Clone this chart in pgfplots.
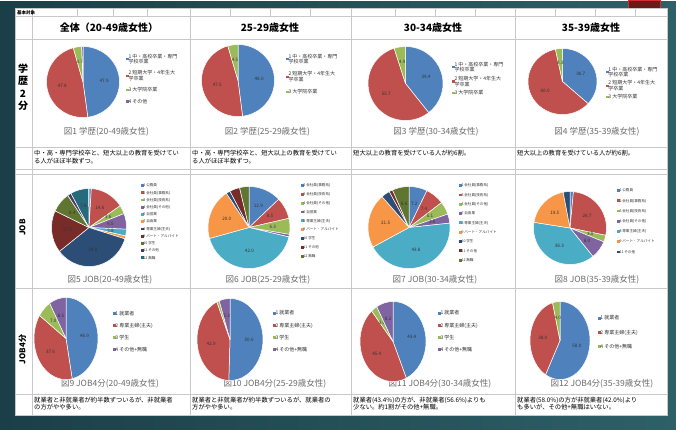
\documentclass[border=0pt]{standalone}
\usepackage{pgfplots}
\usepackage{pgfplotstable}
\pgfplotsset{compat=1.18}
\usepackage{fontspec}
\setmainfont{Noto Sans CJK JP}
\definecolor{xblue}{HTML}{4F81BD}
\definecolor{xred}{HTML}{C0504D}
\definecolor{xgreen}{HTML}{9BBB59}
\definecolor{xpurple}{HTML}{8064A2}
\definecolor{xaqua}{HTML}{4BACC6}
\definecolor{xorange}{HTML}{F79646}
\definecolor{xdblue}{HTML}{2C4D75}
\definecolor{xdred}{HTML}{772C2A}
\definecolor{xdgreen}{HTML}{5F7530}
\definecolor{xdpurple}{HTML}{4D3B62}
\definecolor{xdaqua}{HTML}{276A7C}
\definecolor{bgA}{HTML}{1B3F48}
\definecolor{bgB}{HTML}{2E6067}
\definecolor{gridc}{HTML}{C8C8C8}
\definecolor{capc}{HTML}{6B6B6B}
\definecolor{redfill}{HTML}{6E1919}
\definecolor{redline}{HTML}{D72D2D}

\newcommand\legA{\fontsize{5}{5.6}\selectfont\color{black!80}}
\newcommand\legB{\fontsize{3.6}{4.2}\selectfont\color{black!80}}
\newcommand\labfont{\fontsize{4.6}{5}\selectfont\color{black!80}}

% ---- data ----
\pgfplotstableread{
v c l
47.9 xblue 1
47.8 xred 1
3.7 xgreen 1
0.6 xpurple 0
}\tA
\pgfplotstableread{
v c l
48.0 xblue 1
47.5 xred 1
4.5 xgreen 1
}\tB
\pgfplotstableread{
v c l
39.4 xblue 1
55.7 xred 1
4.9 xgreen 1
}\tC
\pgfplotstableread{
v c l
36.7 xblue 1
60.0 xred 1
3.3 xgreen 1
}\tD
\pgfplotstableread{
v c l
1.0 xblue 0
14.6 xred 1
3.6 xgreen 1
6.5 xpurple 1
2.8 xaqua 1
1.2 xorange 0
34.8 xdblue 1
17.5 xdred 1
8.4 xdgreen 1
1.6 xdpurple 0
7.8 xdaqua 1
}\tE
\pgfplotstableread{
v c l
12.9 xblue 1
8.5 xred 1
6.3 xgreen 1
1.0 xpurple 0
42.0 xaqua 1
20.0 xorange 1
1.6 xdblue 0
4.0 xdred 0
3.7 xdgreen 0
}\tF
\pgfplotstableread{
v c l
7.2 xblue 1
7.4 xred 1
5.1 xgreen 1
3.6 xpurple 1
43.8 xaqua 1
21.5 xorange 1
3.4 xdblue 0
1.4 xdred 0
6.6 xdgreen 1
}\tG
\pgfplotstableread{
v c l
1.5 xblue 0
26.7 xred 1
3.0 xgreen 1
8.0 xpurple 1
38.3 xaqua 1
19.5 xorange 1
3.0 xdblue 0
}\tH
\pgfplotstableread{
v c l
46.9 xblue 1
37.6 xred 1
7.0 xgreen 1
8.5 xpurple 1
}\tI
\pgfplotstableread{
v c l
50.6 xblue 1
42.9 xred 1
1.2 xgreen 0
5.3 xpurple 1
}\tJ
\pgfplotstableread{
v c l
43.4 xblue 1
45.4 xred 1
3.0 xgreen 1
8.2 xpurple 1
}\tK
\pgfplotstableread{
v c l
58.0 xblue 1
38.0 xred 1
4.0 xgreen 1
}\tL

\newcommand\pieslices[3]{%
  \pgfplotstablegetrowsof{#1}%
  \pgfmathtruncatemacro\lastrow{\pgfplotsretval-1}%
  \gdef\cumang{0}%
  \foreach \i in {0,...,\lastrow}{%
    \pgfplotstablegetelem{\i}{v}\of{#1}\let\val\pgfplotsretval
    \pgfplotstablegetelem{\i}{c}\of{#1}\let\col\pgfplotsretval
    \pgfplotstablegetelem{\i}{l}\of{#1}\let\lab\pgfplotsretval
    \pgfmathsetmacro\angA{\cumang}%
    \pgfmathsetmacro\angB{\cumang+3.6*\val}%
    \pgfmathsetmacro\angM{(\angA+\angB)/2}%
    \edef\temp{\noexpand\fill[\col,draw=white,line width=0.5pt,line join=round]
      (axis cs:0,0) -- (axis cs:{sin(\angA)},{cos(\angA)})
      arc[start angle={90-\angA},end angle={90-\angB},x radius=#2pt,y radius=#3pt] -- cycle;}%
    \temp
    \ifnum\lab=1
      \edef\temp{\noexpand\node[font=\noexpand\labfont,inner sep=0pt] at (axis cs:{0.58*sin(\angM)},{0.58*cos(\angM)}) {\val};}%
      \temp
    \fi
    \xdef\cumang{\angB}%
  }%
}

\pgfplotsset{
  pieax/.style={hide axis, scale only axis, xmin=-1,xmax=1,ymin=-1,ymax=1,
    anchor=center, clip=false,
    legend cell align=left,
    legend style={draw=none, fill=none, anchor=north west, inner sep=0pt, outer sep=0pt,
      nodes={inner sep=0.3pt, text depth=0pt},
      cells={anchor=west, align=left},
      /tikz/every even column/.append style={column sep=1.5pt}},
    legend image code/.code={\fill (0pt,-0.9pt) rectangle (1.8pt,0.9pt);},
  },
}

\begin{document}
\begin{tikzpicture}
\begin{scope}[x=1pt,y=-1pt]
% background
\shade[left color=bgA, right color=bgB] (0,0) rectangle (676,428);
\filldraw[fill=redfill, draw=redline, line width=1pt] (628,-1) rectangle (660,7);
\fill[white] (15,7) rectangle (667,414);
% grid
\begin{scope}[draw=gridc, line width=0.5pt]
\foreach \yy in {15,38,146,168,173,287,393} \draw (15,\yy) -- (667,\yy);
\foreach \xx in {32,190,351,515} \draw (\xx,7) -- (\xx,414);
\foreach \xx in {77,113,147,230,270,310,395,435,475,555,595,635} \draw (\xx,7) -- (\xx,15);
\draw (15,7) rectangle (667,414);
\end{scope}
\node[font=\fontsize{4.5}{5}\selectfont\bfseries, anchor=west, inner sep=0pt] at (17,11.5) {基本対象};
% headers
\begin{scope}[every node/.style={font=\fontsize{10}{12}\selectfont\bfseries, inner sep=0pt}]
\node at (109,26) {全体（20-49歳女性）};
\node at (270,26) {25-29歳女性};
\node at (433,26) {30-34歳女性};
\node at (591,26) {35-39歳女性};
\node at (23,67) {学};
\node at (23,79.5) {歴};
\node at (23,92) {2};
\node at (23,104.5) {分};
\end{scope}
\node[font=\fontsize{8}{9}\selectfont\bfseries, rotate=90, inner sep=0pt] at (22.5,226) {JOB};
\node[font=\fontsize{8}{9}\selectfont\bfseries, rotate=90, inner sep=0pt] at (22.5,348) {JOB4分};
% captions
\begin{scope}[every node/.style={font=\fontsize{8.5}{10}\selectfont, text=capc, inner sep=0pt}]
\node at (106.5,130) {図1\ 学歴(20-49歳女性)};
\node at (267.5,130) {図2\ 学歴(25-29歳女性)};
\node at (436,130) {図3\ 学歴(30-34歳女性)};
\node at (597,130) {図4\ 学歴(35-39歳女性)};
\node at (110,278) {図5\ JOB(20-49歳女性)};
\node at (268,278) {図6\ JOB(25-29歳女性)};
\node at (435,278) {図7\ JOB(30-34歳女性)};
\node at (597,278) {図8\ JOB(35-39歳女性)};
\node at (110,382) {図9\ JOB4分(20-49歳女性)};
\node at (275,382) {図10\ JOB4分(25-29歳女性)};
\node at (440,382) {図11\ JOB4分(30-34歳女性)};
\node at (602,382) {図12\ JOB4分(35-39歳女性)};
\end{scope}
% comment rows
\begin{scope}[every node/.style={font=\fontsize{6.3}{7.5}\selectfont, anchor=north west, align=left, inner sep=0pt}]
\node at (34,148.5) {中・高・専門学校卒と、短大以上の教育を受けてい\\る人がほぼ半数ずつ。};
\node at (192,148.5) {中・高・専門学校卒と、短大以上の教育を受けてい\\る人がほぼ半数ずつ。};
\node at (353,148.5) {短大以上の教育を受けている人が約6割。};
\node at (517,148.5) {短大以上の教育を受けている人が約6割。};
\node at (34,395) {就業者と非就業者が約半数ずついるが、非就業者\\の方がやや多い。};
\node at (192,395) {就業者と非就業者が約半数ずついるが、就業者の\\方がやや多い。};
\node at (353,395) {就業者(43.4\%)の方が、非就業者(56.6\%)よりも\\少ない。約1割がその他+無職。};
\node at (517,395) {就業者(58.0\%)の方が非就業者(42.0\%)より\\も多いが、その他+無職はいない。};
\end{scope}
\end{scope}

% ---------- Row 1 ----------
\begin{axis}[pieax, at={(83pt,-80.5pt)}, width=73pt, height=71pt,
  legend style={at={(1.089,0.901)}, font=\legA, row sep=6.5pt}]
\addlegendimage{xblue}\addlegendimage{xred}\addlegendimage{xgreen}\addlegendimage{xpurple}
\pieslices{\tA}{36.5}{35.5}
\legend{{1 中・高校卒業・専門\\学校卒業},{2 短期大学・4年生大\\学卒業},{3 大学院卒業},{4 その他}}
\end{axis}
\begin{axis}[pieax, at={(238pt,-79pt)}, width=73pt, height=72pt,
  legend style={at={(1.158,0.875)}, font=\legA, row sep=7.5pt}]
\addlegendimage{xblue}\addlegendimage{xred}\addlegendimage{xgreen}
\pieslices{\tB}{36.5}{36}
\legend{{1 中・高校卒業・専門\\学校卒業},{2 短期大学・4年生大\\学卒業},{3 大学院卒業}}
\end{axis}
\begin{axis}[pieax, at={(405.5pt,-82pt)}, width=75pt, height=74pt,
  legend style={at={(1.12,0.797)}, font=\legA, row sep=4pt}]
\addlegendimage{xblue}\addlegendimage{xred}\addlegendimage{xgreen}
\pieslices{\tC}{37.5}{37}
\legend{{1 中・高校卒業・専門\\学校卒業},{2 短期大学・4年生大\\学卒業},{3 大学院卒業}}
\end{axis}
\begin{axis}[pieax, at={(562.5pt,-80pt)}, width=69pt, height=66pt,
  legend style={at={(1.13,0.727)}, font=\legA, row sep=3.5pt}]
\addlegendimage{xblue}\addlegendimage{xred}\addlegendimage{xgreen}
\pieslices{\tD}{34.5}{33}
\legend{{1 中・高校卒業・専門\\学校卒業},{2 短期大学・4年生大\\学卒業},{3 大学院卒業}}
\end{axis}

% ---------- Row 2 ----------
\begin{axis}[pieax, at={(89pt,-226pt)}, width=75pt, height=78pt,
  legend style={at={(1.193,1.064)}, font=\legB, row sep=3.6pt}]
\addlegendimage{xblue}\addlegendimage{xred}\addlegendimage{xgreen}\addlegendimage{xpurple}
\addlegendimage{xaqua}\addlegendimage{xorange}\addlegendimage{xdblue}\addlegendimage{xdred}
\addlegendimage{xdgreen}\addlegendimage{xdpurple}\addlegendimage{xdaqua}
\pieslices{\tE}{37.5}{39}
\legend{1 公務員,2 会社員(事務系),3 会社員(技術系),4 会社員(その他),5 自営業,7 自由業,8 専業主婦(主夫),9 パート・アルバイト,10 学生,11 その他,12 無職}
\end{axis}
\begin{axis}[pieax, at={(249pt,-226pt)}, width=82pt, height=82pt,
  legend style={at={(1.134,1.037)}, font=\legB, row sep=5.2pt}]
\addlegendimage{xblue}\addlegendimage{xred}\addlegendimage{xgreen}\addlegendimage{xpurple}
\addlegendimage{xaqua}\addlegendimage{xorange}\addlegendimage{xdblue}\addlegendimage{xdred}
\addlegendimage{xdgreen}
\pieslices{\tF}{41}{41}
\legend{2 会社員(事務系),3 会社員(技術系),4 会社員(その他),5 自営業,8 専業主婦(主夫),9 パート・アルバイト,10 学生,11 その他,12 無職}
\end{axis}
\begin{axis}[pieax, at={(409pt,-226pt)}, width=82pt, height=82pt,
  legend style={at={(1.11,1.037)}, font=\legB, row sep=5.7pt}]
\addlegendimage{xblue}\addlegendimage{xred}\addlegendimage{xgreen}\addlegendimage{xpurple}
\addlegendimage{xaqua}\addlegendimage{xorange}\addlegendimage{xdblue}\addlegendimage{xdred}
\addlegendimage{xdgreen}
\pieslices{\tG}{41}{41}
\legend{2 会社員(事務系),3 会社員(技術系),4 会社員(その他),7 自由業,8 専業主婦(主夫),9 パート・アルバイト,10 学生,11 その他,12 無職}
\end{axis}
\begin{axis}[pieax, at={(570pt,-226.5pt)}, width=73pt, height=73pt,
  legend style={at={(1.144,1.041)}, font=\legB, row sep=6.6pt}]
\addlegendimage{xblue}\addlegendimage{xred}\addlegendimage{xgreen}\addlegendimage{xpurple}
\addlegendimage{xaqua}\addlegendimage{xorange}\addlegendimage{xdblue}
\pieslices{\tH}{36.5}{36.5}
\legend{1 公務員,2 会社員(事務系),3 会社員(技術系),4 会社員(その他),8 専業主婦(主夫),9 パート・アルバイト,11 その他}
\end{axis}

% ---------- Row 3 ----------
\begin{axis}[pieax, at={(66pt,-337pt)}, width=64pt, height=82pt,
  legend style={at={(1.234,0.841)}, font=\legA, row sep=7.4pt}]
\addlegendimage{xblue}\addlegendimage{xred}\addlegendimage{xgreen}\addlegendimage{xpurple}
\pieslices{\tI}{32}{41}
\legend{1 就業者,2 専業主婦(主夫),3 学生,4 その他+無職}
\end{axis}
\begin{axis}[pieax, at={(230pt,-338pt)}, width=66pt, height=82pt,
  legend style={at={(1.152,0.854)}, font=\legA, row sep=7.4pt}]
\addlegendimage{xblue}\addlegendimage{xred}\addlegendimage{xgreen}\addlegendimage{xpurple}
\pieslices{\tJ}{33}{41}
\legend{1 就業者,2 専業主婦(主夫),3 学生,4 その他+無職}
\end{axis}
\begin{axis}[pieax, at={(393pt,-340pt)}, width=66pt, height=80pt,
  legend style={at={(1.182,0.888)}, font=\legA, row sep=7.4pt}]
\addlegendimage{xblue}\addlegendimage{xred}\addlegendimage{xgreen}\addlegendimage{xpurple}
\pieslices{\tK}{33}{40}
\legend{1 就業者,2 専業主婦(主夫),3 学生,4 その他+無職}
\end{axis}
\begin{axis}[pieax, at={(560pt,-339pt)}, width=60pt, height=78pt,
  legend style={at={(1.133,0.821)}, font=\legA, row sep=9.4pt}]
\addlegendimage{xblue}\addlegendimage{xred}\addlegendimage{xgreen}
\pieslices{\tL}{30}{39}
\legend{1 就業者,2 専業主婦(主夫),4 その他+無職}
\end{axis}
\end{tikzpicture}
\end{document}
